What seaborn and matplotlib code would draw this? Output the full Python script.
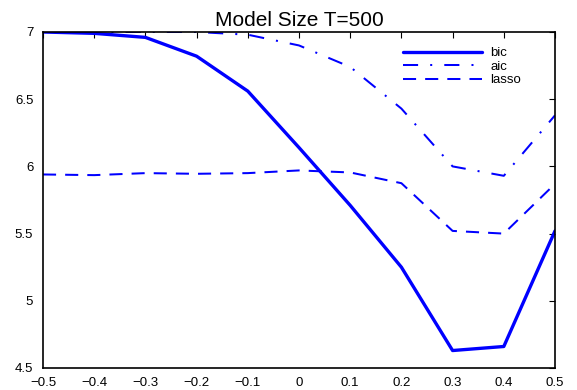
import matplotlib
matplotlib.use("Agg")
import matplotlib.pyplot as plt
import seaborn as sns
import pandas as pd
from matplotlib.ticker import FuncFormatter, MultipleLocator

x_vals = [-0.5, -0.4, -0.3, -0.2, -0.1, 0.0, 0.1, 0.2, 0.3, 0.4, 0.5]
bic = [7.0, 6.99, 6.96, 6.82, 6.56, 6.14, 5.71, 5.25, 4.63, 4.66, 5.52]
aic = [7.0, 7.0, 7.0, 7.0, 6.98, 6.90, 6.74, 6.43, 6.0, 5.93, 6.38]
lasso = [5.94, 5.935, 5.95, 5.945, 5.95, 5.97, 5.955, 5.875, 5.52, 5.50, 5.87]
series_names = ["bic", "aic", "lasso"]

df = pd.DataFrame({
    "x": x_vals * 3,
    "value": bic + aic + lasso,
    "method": sum([[n] * len(x_vals) for n in series_names], []),
})

sns.set_theme(style="white")
plt.rcParams["font.family"] = ["Liberation Sans", "DejaVu Sans"]
plt.rcParams["text.color"] = "black"

fig = plt.figure(figsize=(5.77, 3.9), dpi=100)
ax = fig.add_axes([43 / 577, 22 / 390, 512 / 577, 336 / 390])

styles = {"bic": dict(lw=2.4, dashes=None),
          "aic": dict(lw=1.45, dashes=(7.5, 6, 1, 6)),
          "lasso": dict(lw=1.45, dashes=(6.5, 4.5))}
for name in series_names:
    sub = df[df["method"] == name]
    st = styles[name]
    line_kw = {}
    if st["dashes"] is not None:
        line_kw["dashes"] = st["dashes"]
    sns.lineplot(data=sub, x="x", y="value", ax=ax, color="#0000ff",
                 linewidth=st["lw"], label=name, **line_kw)

ax.set_xlim(-0.5, 0.5)
ax.set_ylim(4.5, 7)
ax.xaxis.set_major_locator(MultipleLocator(0.1))
ax.yaxis.set_major_locator(MultipleLocator(0.5))
ax.xaxis.set_major_formatter(FuncFormatter(lambda v, p: ("%g" % round(v, 2)).replace("-", "\u2212")))
ax.yaxis.set_major_formatter(FuncFormatter(lambda v, p: "%g" % round(v, 2)))
ax.tick_params(direction="in", length=4, width=0.8, top=True, right=True,
               labelsize=9.5, colors="black")
ax.tick_params(axis="x", pad=6.5)
ax.tick_params(axis="y", pad=7)
ax.set_xlabel("")
ax.set_ylabel("")
for sp in ax.spines.values():
    sp.set_color("black")
    sp.set_linewidth(1.2)
ax.set_title("Model Size T=500", fontsize=15, pad=4, color="black")

leg = ax.legend(loc="upper left", frameon=False, fontsize=9.5,
                handlelength=6.0, handletextpad=0.6, borderaxespad=0.0,
                borderpad=0.0, bbox_to_anchor=((403 - 43) / 512, (368 - 47) / 336),
                labelspacing=0.1)
for t in leg.get_texts():
    t.set_color("black")
fig.savefig("out.png", dpi=100)
